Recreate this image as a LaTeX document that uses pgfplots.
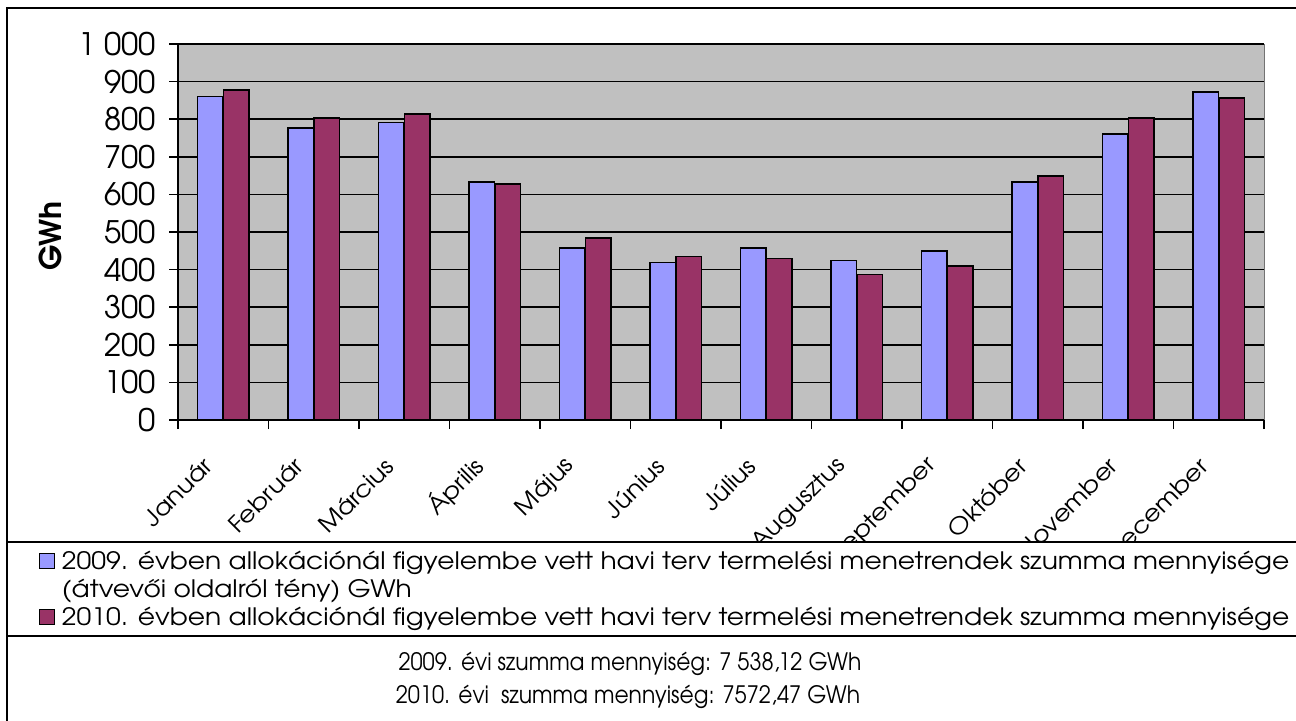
\documentclass[border=0pt]{standalone}
\usepackage{pgfplots}
\pgfplotsset{compat=1.18}
\usepackage{fontspec}
\setmainfont{texgyreadventor}[Extension=.otf, UprightFont=*-regular, BoldFont=*-bold, ItalicFont=*-italic, BoldItalicFont=*-bolditalic]
\newfontfamily\widefont{texgyreadventor}[Extension=.otf, UprightFont=*-regular, BoldFont=*-bold, FakeStretch=1.105]
\newfontfamily\narrowfont{texgyreadventor}[Extension=.otf, UprightFont=*-regular, BoldFont=*-bold, FakeStretch=0.91]
\definecolor{barA}{HTML}{9999FF}
\definecolor{barB}{HTML}{993366}
\definecolor{plotbg}{HTML}{C0C0C0}
\begin{document}
\begin{tikzpicture}
\useasboundingbox (0,0) rectangle (648pt,360pt);
\fill[white] (0,0) rectangle (648pt,360pt);
\begin{axis}[
  at={(89pt,150pt)}, anchor=south west,
  scale only axis, width=543pt, height=188pt,
  xmin=-0.5, xmax=11.5, ymin=0, ymax=1000,
  ybar=0.25pt, bar width=12.75pt,
  axis x line*=bottom, axis y line*=left,
  axis line style={black, line width=0.75pt},
  axis background/.style={fill=plotbg, draw=black!55},
  ytick={0,100,...,1000},
  yticklabels={0,100,200,300,400,500,600,700,800,900,1 000},
  xtick={-0.5,0.5,...,11.5},
  x tick label as interval,
  xticklabels={Január,Február,Március,Április,Május,Június,Július,Augusztus,Szeptember,Október,November,December},
  tick align=outside,
  major tick length=4.5pt,
  tick style={black, line width=0.75pt},
  ymajorgrids, grid style={black, line width=0.75pt},
  /pgf/number format/assume math mode=true,
  yticklabel style={font=\fontsize{15.5}{15.5}\selectfont, inner xsep=0pt, xshift=-6.5pt},
  xticklabel style={font=\widefont\fontsize{11.5}{11.5}\selectfont, xshift=-5pt, yshift=-14pt, rotate=45, anchor=east},
]
\addplot[fill=barA, draw=black, line width=0.75pt] coordinates {
(0,861) (1,776) (2,791) (3,633) (4,457) (5,419) (6,457) (7,424) (8,450) (9,633) (10,761) (11,872)};
\addplot[fill=barB, draw=black, line width=0.75pt] coordinates {
(0,878) (1,803) (2,814) (3,628) (4,484) (5,435) (6,430) (7,387) (8,409) (9,649) (10,803) (11,856)};
\end{axis}
% legend / summary panel
\fill[white] (3.5pt,0pt) rectangle (650pt,89.25pt);
\draw[line width=1pt] (3.5pt,-2pt) -- (3.5pt,356pt) -- (650pt,356pt);
\draw[line width=1pt] (3.5pt,89.25pt) -- (650pt,89.25pt);
\draw[line width=1pt] (3.5pt,42.25pt) -- (650pt,42.25pt);
\node[rotate=90, font=\bfseries\fontsize{15}{15}\selectfont] at (25pt,242pt) {GWh};
\begin{axis}[
  at={(0pt,0pt)}, anchor=south west,
  scale only axis, width=648pt, height=360pt,
  xmin=0, xmax=648, ymin=0, ymax=360,
  hide axis,
  legend image code/.code={\draw[#1, line width=0.6pt] (0pt,0.5pt) rectangle (7.5pt,8pt);},
  legend style={at={(19.2/648,86.5/360)}, anchor=north west, draw=none, fill=none,
    inner sep=0pt, row sep=-0.5pt, column sep=1.5pt,
    font=\widefont\fontsize{12}{12}\selectfont,
    cells={anchor=base west, inner sep=0pt, text height=9pt, text depth=3pt}},
]
\addlegendimage{fill=barA, draw=black}
\addlegendentry{2009. évben allokációnál figyelembe vett havi terv termelési menetrendek szumma mennyisége}
\addlegendimage{empty legend}
\addlegendentry{(átvevői oldalról tény) GWh}
\addlegendimage{fill=barB, draw=black}
\addlegendentry{2010. évben allokációnál figyelembe vett havi terv termelési menetrendek szumma mennyisége}
\end{axis}
\node[anchor=base, font=\narrowfont\fontsize{12}{12}\selectfont] at (315pt,25pt) {2009. évi szumma mennyiség: 7 538,12 GWh};
\node[anchor=base, font=\narrowfont\fontsize{12}{12}\selectfont] at (314pt,8.5pt) {2010. évi\ \ szumma mennyiség: 7572,47 GWh};
\end{tikzpicture}
\end{document}
